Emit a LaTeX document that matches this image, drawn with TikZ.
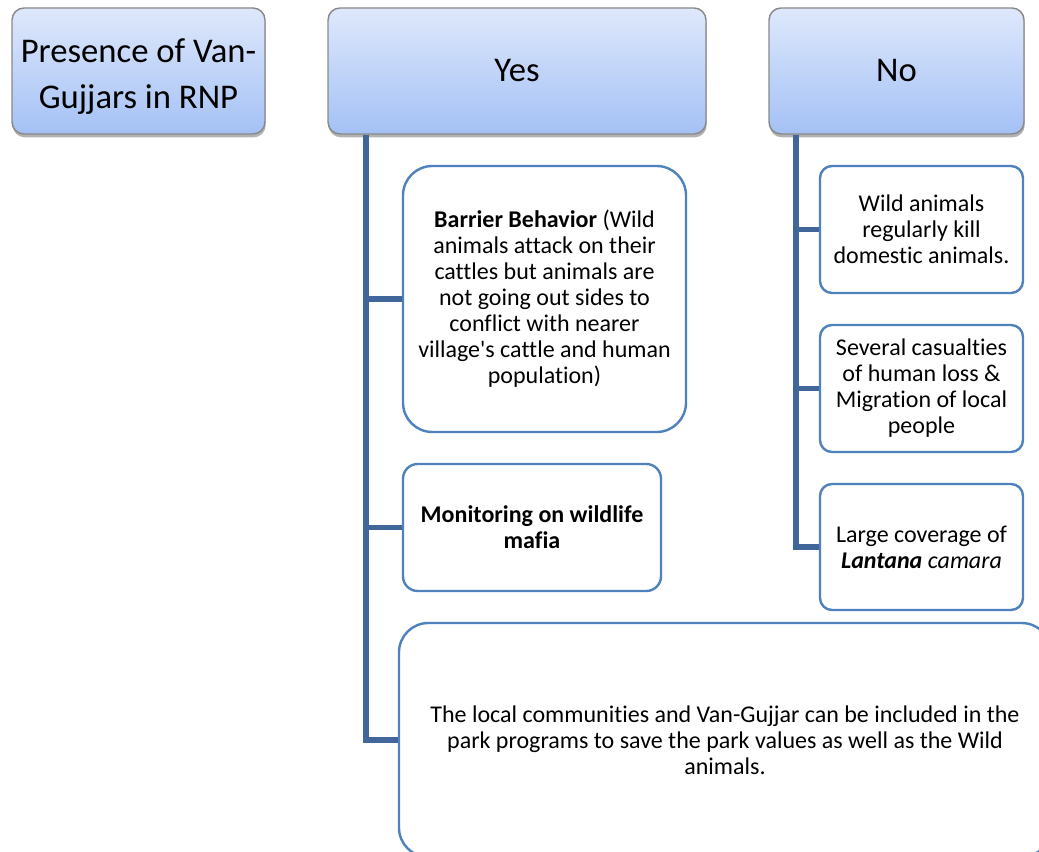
\documentclass[tikz,border=0pt]{standalone}
\usepackage{fontspec}
\setmainfont{Carlito}[Ligatures=NoCommon]
\usetikzlibrary{shadows}
\definecolor{boxline}{RGB}{79,129,189}
\definecolor{connc}{RGB}{65,103,154}
\definecolor{topc}{RGB}{222,232,251}
\definecolor{botc}{RGB}{164,193,245}
\definecolor{headline}{RGB}{137,137,137}
\tikzset{
  head/.style={rectangle, rounded corners=9pt, draw=headline, line width=1.1pt,
    top color=topc, bottom color=botc, align=center, inner sep=0pt,
    font=\fontsize{26}{34.5}\selectfont,
    drop shadow={shadow xshift=0.5pt, shadow yshift=-2.5pt, opacity=0.3, fill=black}},
  leaf/.style={rectangle, draw=boxline, line width=1.8pt, fill=white, align=center,
    inner sep=0pt, font=\fontsize{18}{19.5}\selectfont},
  conn/.style={draw=connc, line width=3.8pt}
}
\begin{document}
\begin{tikzpicture}[x=0.75pt,y=-0.75pt]
\useasboundingbox (0,0) rectangle (1039,852);
\clip (0,0) rectangle (1039,852);
% header boxes
\node[head, minimum width=253*0.75pt, minimum height=126*0.75pt,
  label={[font=\fontsize{26}{34.5}\selectfont, align=center, yshift=-4.5pt]center:Presence of Van-\\Gujjars in RNP}] (pres) at (138.5,71) {};
\node[head, minimum width=378*0.75pt, minimum height=126*0.75pt] (yes) at (517,71) {Yes};
\node[head, minimum width=255*0.75pt, minimum height=126*0.75pt] (no) at (896.5,71) {No};
% yes branch
\node[leaf, rounded corners=22pt, minimum width=283*0.75pt, minimum height=266*0.75pt] (bar) at (544.5,299)
  {\textbf{Barrier Behavior} (Wild\\animals attack on their\\cattles but animals are\\not going out sides to\\conflict with nearer\\village\textquotesingle s cattle and human\\population)};
\node[leaf, rounded corners=11pt, minimum width=258*0.75pt, minimum height=127*0.75pt] (mon) at (532,527.5)
  {\textbf{Monitoring on wildlife}\\\textbf{mafia}};
\node[leaf, rounded corners=22pt, minimum width=652*0.75pt, minimum height=234*0.75pt] (bot) at (725,740)
  {The local communities and Van-Gujjar can be included in the\\park programs to save the park values as well as the Wild\\animals.};
% no branch
\node[leaf, rounded corners=9pt, minimum width=203*0.75pt, minimum height=127*0.75pt] (wild) at (921.5,229.5)
  {Wild animals\\regularly kill\\domestic animals.};
\node[leaf, rounded corners=9pt, minimum width=203*0.75pt, minimum height=127*0.75pt] (sev) at (921.5,388.5)
  {Several casualties\\of human loss \&\\Migration of local\\people};
\node[leaf, rounded corners=9pt, minimum width=203*0.75pt, minimum height=126*0.75pt] (lan) at (921.5,547)
  {Large coverage of\\\textbf{\textit{Lantana}} \textit{camara}};
% connectors
\coordinate (ty) at (366,0);
\coordinate (tn) at (796,0);
\draw[conn] (yes.south -| ty) |- (bot.west);
\draw[conn] (ty |- bar.west) -- (bar.west);
\draw[conn] (ty |- mon.west) -- (mon.west);
\draw[conn] (no.south -| tn) |- (lan.west);
\draw[conn] (tn |- wild.west) -- (wild.west);
\draw[conn] (tn |- sev.west) -- (sev.west);
\end{tikzpicture}
\end{document}
